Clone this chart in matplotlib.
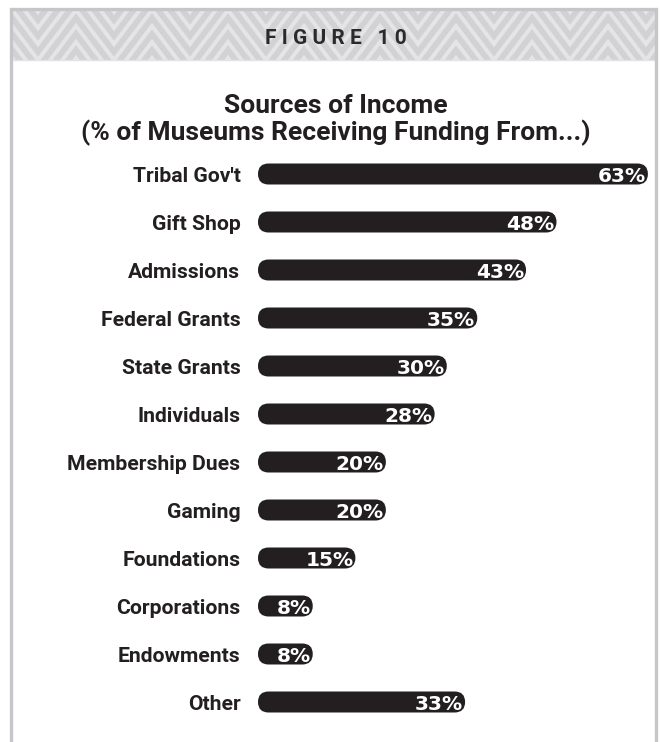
import numpy as np
import matplotlib
matplotlib.use("Agg")
import matplotlib.pyplot as plt
from matplotlib.patches import FancyBboxPatch, Rectangle

plt.rcParams['font.family'] = ['Roboto', 'DejaVu Sans']

# Survey results
sources = ["Tribal Gov't", "Gift Shop", "Admissions", "Federal Grants",
           "State Grants", "Individuals", "Membership Dues", "Gaming",
           "Foundations", "Corporations", "Endowments", "Other"]
pct = [63, 48, 43, 35, 30, 28, 20, 20, 15, 8, 8, 33]

fig_title = "F I G U R E   1 0"
chart_title = "Sources of Income\n(% of Museums Receiving Funding From...)"

W, H = 662, 742
ink = "#231f20"
frame = "#c6c6ca"

fig = plt.figure(figsize=(W / 100, H / 100), dpi=100)
fig.patch.set_facecolor("white")

# background layer in pixel units: frame, patterned header, titles
bg = fig.add_axes([0, 0, 1, 1])
bg.set_xlim(0, W)
bg.set_ylim(H, 0)
bg.axis("off")

band = Rectangle((11, 10), 645, 50, facecolor="#d2d2d5", edgecolor="none", zorder=1)
bg.add_patch(band)

# chevron stripes across the header
zx = np.arange(-76, W + 76, 38)
zy = np.where((np.arange(len(zx)) % 2) == 0, 0, 50)
for k in range(-4, 5):
    ln, = bg.plot(zx, zy + 10 + k * 16, color="#e5e5e7", lw=2.8,
                  solid_joinstyle="miter", zorder=2)
    ln.set_clip_path(band)

bg.plot([11, 656], [60, 60], color="#e2e2e4", lw=1, zorder=3)
bg.plot([11, 11, 656, 656], [H, 9, 9, H], color=frame, lw=2.4,
        solid_joinstyle="miter", zorder=4)

bg.text(336, 38, fig_title, ha="center", va="center",
        fontsize=15, fontweight="bold", color="#2a2a2a")
bg.text(336, 120, chart_title, ha="center", va="center", fontsize=19,
        fontweight="bold", color=ink, linespacing=1.05)

# bar panel: x in percent, one row per source
ax = fig.add_axes([264 / W, 16 / H, 390 / W, 576 / H])
ax.set_xlim(0, 64)
ax.set_ylim(len(sources) - 0.5, -0.5)
ax.patch.set_alpha(0)
for s in ax.spines.values():
    s.set_visible(False)
ax.set_xticks([])
ax.set_yticks(range(len(sources)))
ax.set_yticklabels(sources, fontsize=15.2, fontweight="bold", color=ink)
ax.tick_params(axis="y", length=0, pad=17)

px_x = 390 / 64          # pixels per percent
px_y = 576 / len(sources)  # pixels per row
bar_h = 21 / px_y
aspect = px_x / px_y
radius = bar_h / aspect / 2
cap = 6 / px_x

for i, v in enumerate(pct):
    bar = FancyBboxPatch((-cap, i - bar_h / 2), v + cap, bar_h,
                         boxstyle=f"round,pad=0,rounding_size={radius}",
                         mutation_aspect=aspect, facecolor=ink,
                         edgecolor="none", zorder=2, clip_on=False)
    ax.add_patch(bar)
    t = ax.annotate(f"{v}%", xy=(v, i), xytext=(-1.5, -6), textcoords="offset points",
                    ha="right", va="baseline", fontsize=14.5, fontweight="bold",
                    family="DejaVu Sans", color="white", zorder=3,
                    annotation_clip=False)
    t.set_clip_path(bar)

fig.savefig("out.png", dpi=100)
